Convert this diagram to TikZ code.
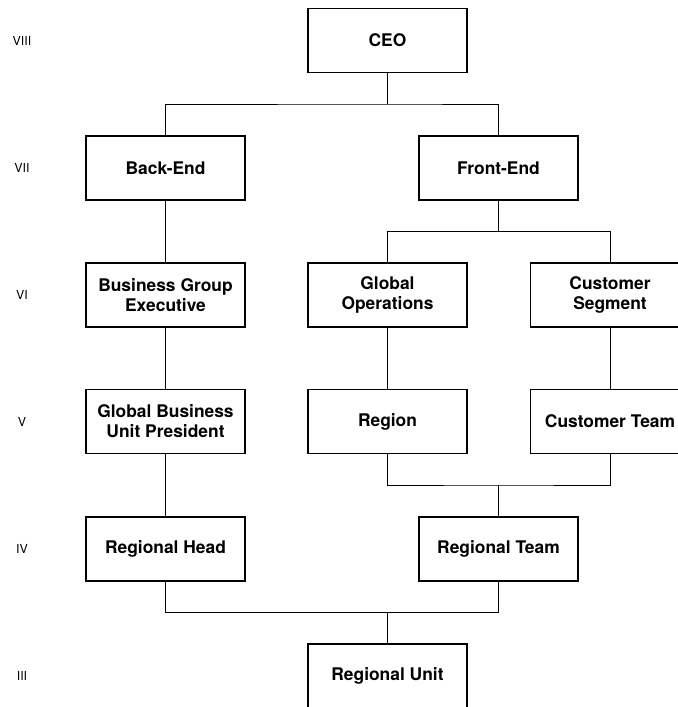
\documentclass[tikz,border=0pt]{standalone}
\usepackage{fontspec}
\setmainfont{TeX Gyre Heros}
\usepackage{tikz}
\tikzset{
    unit/.style={draw, line width=0.7pt, minimum width=79.5pt, minimum height=32pt,
        inner sep=0pt, align=center, font=\fontsize{8.7}{10}\selectfont\bfseries},
    level/.style={font=\fontsize{6.2}{7}\selectfont},
    link/.style={line width=0.5pt}
}

\begin{document}
\begin{tikzpicture}[x=0.5pt, y=-0.5pt]
        \clip (0,0) rectangle (678,707);

        \foreach \lab/\y in {VIII/40.5, VII/168, VI/295, V/421.5, IV/549, III/676}
            \node[level] (lv\lab) at (22,\y) {\lab};

        \node[unit] (ceo) at (387.5,40.5) {CEO};
        \node[unit] (back) at (165.5,168) {Back-End};
        \node[unit] (front) at (498.5,168) {Front-End};
        \node[unit] (bge) at (165.5,295) {Business Group\\Executive};
        \node[unit] (gops) at (387.5,295) {Global\\Operations};
        \node[unit] (cseg) at (610,295) {Customer\\Segment};
        \node[unit] (gbup) at (165.5,421.5) {Global Business\\Unit President};
        \node[unit] (region) at (387.5,421.5) {Region};
        \node[unit] (cteam) at (610,421.5) {Customer Team};
        \node[unit] (rhead) at (165.5,549) {Regional Head};
        \node[unit] (rteam) at (498.5,549) {Regional Team};
        \node[unit] (runit) at (387.5,676) {Regional Unit};

        \coordinate (j1) at (387.5,104);
        \coordinate (j2) at (498.5,231.5);
        \coordinate (j3) at (498.5,485);
        \coordinate (j4) at (387.5,612.5);

        \draw[link] (ceo.south) -- (j1);
        \draw[link] (back.north) |- (j1) -| (front.north);
        \draw[link] (front.south) -- (j2);
        \draw[link] (gops.north) |- (j2) -| (cseg.north);
        \draw[link] (back) -- (bge);
        \draw[link] (bge) -- (gbup);
        \draw[link] (gbup) -- (rhead);
        \draw[link] (gops) -- (region);
        \draw[link] (cseg) -- (cteam);
        \draw[link] (region.south) |- (j3) -| (cteam.south);
        \draw[link] (j3) -- (rteam.north);
        \draw[link] (rhead.south) |- (j4) -| (rteam.south);
        \draw[link] (j4) -- (runit.north);
    \end{tikzpicture}
\end{document}
